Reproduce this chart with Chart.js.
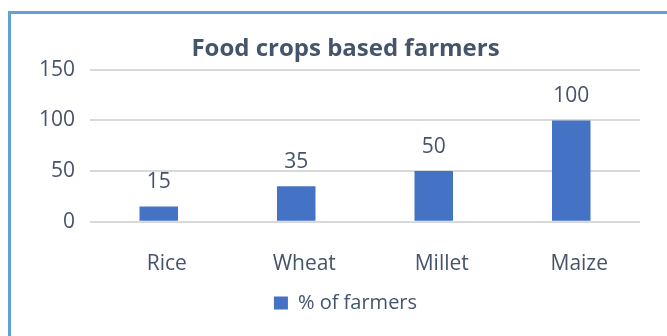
<!DOCTYPE html>
<html>
<head>
<meta charset="utf-8">
<script src="https://cdn.jsdelivr.net/npm/chart.js@4/dist/chart.umd.min.js"></script>
<style>
  html, body { margin: 0; padding: 0; background: #ffffff; }
  #wrap { position: relative; width: 667px; height: 336px; overflow: hidden; }
  #frame {
    position: absolute; left: 8px; top: 11px; width: 720px; height: 400px;
    border-left: 3px solid #62A0D8; border-top: 3px solid #62A0D8;
    box-sizing: border-box;
  }
  #chart { position: absolute; left: 0; top: 0; }
</style>
</head>
<body>
<div id="wrap">
  <div id="frame"></div>
  <canvas id="chart" width="667" height="336"></canvas>
</div>
<script>
// Crops and the share of farmers growing each one
const crops = ['Rice', 'Wheat', 'Millet', 'Maize'];
const farmersPct = [15, 35, 50, 100];
const yTicks = [0, 50, 100, 150];

const TEXT = '#44546A';
const FONT = "'Open Sans', 'DejaVu Sans', sans-serif";

// Writes each bar's value above its top
const valueLabels = {
  id: 'valueLabels',
  afterDatasetsDraw(chart) {
    const { ctx } = chart;
    const meta = chart.getDatasetMeta(0);
    const values = chart.data.datasets[0].data;
    ctx.save();
    ctx.font = `21px ${FONT}`;
    ctx.fillStyle = TEXT;
    ctx.textAlign = 'center';
    ctx.textBaseline = 'middle';
    meta.data.forEach((bar, i) => {
      ctx.fillText(String(values[i]), bar.x, bar.y - 24);
    });
    ctx.restore();
  }
};

new Chart(document.getElementById('chart'), {
  type: 'bar',
  data: {
    labels: crops,
    datasets: [{
      label: '% of farmers',
      data: farmersPct,
      backgroundColor: '#4472C4',
      borderWidth: 0,
      categoryPercentage: 1,
      barPercentage: 0.28
    }]
  },
  options: {
    responsive: false,
    animation: false,
    devicePixelRatio: 1,
    layout: { padding: { left: 24, right: 0, top: 0, bottom: 13 } },
    plugins: {
      title: {
        display: true,
        text: 'Food crops based farmers',
        color: TEXT,
        font: { family: FONT, size: 24, weight: 'bold' },
        padding: { top: 35, bottom: 6 }
      },
      legend: {
        position: 'bottom',
        labels: {
          color: TEXT,
          font: { family: FONT, size: 20 },
          boxWidth: 14,
          boxHeight: 13,
          padding: 8
        }
      },
      tooltip: { enabled: false }
    },
    scales: {
      x: {
        grid: { display: false, drawTicks: false },
        border: { display: false },
        afterFit(scale) { scale.height = 63.3; },
        ticks: {
          color: TEXT,
          font: { family: FONT, size: 21 },
          padding: 30,
          labelOffset: 8,
          maxRotation: 0
        }
      },
      y: {
        min: yTicks[0],
        max: yTicks[yTicks.length - 1],
        afterBuildTicks(scale) {
          scale.ticks = yTicks.map(v => ({ value: v }));
        },
        afterFit(scale) { scale.width = 66; },
        grid: { color: '#D9D9D9', lineWidth: 2, drawTicks: false },
        border: { display: false },
        ticks: {
          color: TEXT,
          font: { family: FONT, size: 21 },
          padding: 15
        }
      },
      // empty margin on the right of the plot
      yRight: {
        position: 'right',
        grid: { display: false, drawTicks: false },
        border: { display: false },
        ticks: { display: false },
        afterFit(scale) { scale.width = 27; }
      }
    }
  },
  plugins: [valueLabels]
});
</script>
</body>
</html>
